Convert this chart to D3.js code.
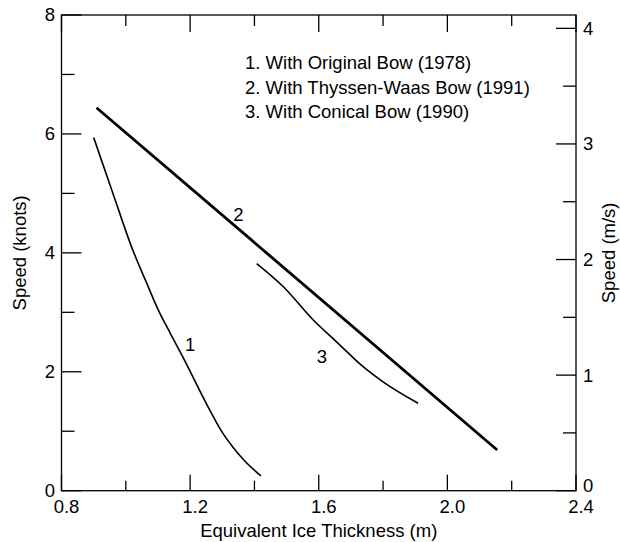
<!DOCTYPE html>
<html><head><meta charset="utf-8">
<script src="https://cdn.jsdelivr.net/npm/d3@7"></script>
<style>body{margin:0;background:#fff}svg{display:block}text{font-family:"Liberation Sans",Arial,sans-serif;fill:#000}</style>
</head><body><div id="chart"></div>
<script>
const xTicksMajor = [0.8, 1.2, 1.6, 2.0, 2.4];
const xTicksMinor = [1.0, 1.4, 1.8, 2.2];
const yTicksMajor = [0, 2, 4, 6, 8];
const yTicksMinor = [1, 3, 5, 7];
const y2TicksMajor = [0, 1, 2, 3, 4];
const y2TicksMinor = [0.5, 1.5, 2.5, 3.5];
const legendLines = ["1. With Original Bow (1978)", "2. With Thyssen-Waas Bow (1991)", "3. With Conical Bow (1990)"];
const series1 = [[0.90,5.94],[0.96,5.0],[1.02,4.07],[1.065,3.49],[1.10,3.05],[1.14,2.63],[1.18,2.22],[1.25,1.47],[1.30,0.98],[1.335,0.72],[1.37,0.50],[1.42,0.25]];
const series2 = [[0.909,6.44],[2.155,0.685]];
const series3 = [[1.407,3.82],[1.49,3.43],[1.583,2.87],[1.656,2.50],[1.738,2.085],[1.80,1.83],[1.909,1.47]];
const curveLabels = [{t:"1",x:1.20,y:2.45},{t:"2",x:1.35,y:4.65},{t:"3",x:1.61,y:2.25}];
const knotToMs = 0.514444;

const W = 620, H = 542;
const L = 61.5, R = 576, T = 15, B = 490.7;
const svg = d3.select("#chart").append("svg").attr("width", W).attr("height", H);
const x = d3.scaleLinear().domain([0.8, 2.4]).range([L, R]);
const y = d3.scaleLinear().domain([0, 8]).range([B, T]);
const y2 = d3.scaleLinear().domain([0, 8 * knotToMs]).range([B, T]);
const fs = "18.5px";

const g = svg.append("g");
g.append("rect").attr("x", L).attr("y", T).attr("width", R - L).attr("height", B - T)
  .attr("fill", "none").attr("stroke", "#000").attr("stroke-width", 1.3);

const tk = (x1, y1, x2, y2_) => g.append("line").attr("x1", x1).attr("y1", y1).attr("x2", x2).attr("y2", y2_).attr("stroke", "#000").attr("stroke-width", 1.3);
xTicksMajor.forEach(v => { tk(x(v), B, x(v), B - 16); tk(x(v), T, x(v), T + 17); });
xTicksMinor.forEach(v => { tk(x(v), B, x(v), B - 10); tk(x(v), T, x(v), T + 11); });
yTicksMajor.forEach(v => tk(L, y(v), L + 20, y(v)));
yTicksMinor.forEach(v => tk(L, y(v), L + 13, y(v)));
y2TicksMajor.forEach(v => tk(R, y2(v), R - 20, y2(v)));
y2TicksMinor.forEach(v => tk(R, y2(v), R - 13, y2(v)));

g.selectAll(".xl").data(xTicksMajor).enter().append("text")
  .attr("x", d => x(d) + 5).attr("y", B + 22).attr("text-anchor", "middle").style("font-size", fs)
  .text(d => d.toFixed(1));
g.selectAll(".yl").data(yTicksMajor).enter().append("text")
  .attr("x", L - 6.5).attr("y", d => y(d)).attr("dy", "0.35em").attr("text-anchor", "end").style("font-size", fs)
  .text(d => d);
g.selectAll(".y2l").data(y2TicksMajor).enter().append("text")
  .attr("x", R + 7).attr("y", d => y2(d) - (d === 0 ? 5 : 0)).attr("dy", "0.35em").attr("text-anchor", "start").style("font-size", fs)
  .text(d => d);

svg.append("text").attr("x", (L + R) / 2).attr("y", 537).attr("text-anchor", "middle").style("font-size", fs)
  .text("Equivalent Ice Thickness (m)");
svg.append("text").attr("transform", `translate(26,${(T + B) / 2}) rotate(-90)`).attr("text-anchor", "middle").style("font-size", fs)
  .text("Speed (knots)");
svg.append("text").attr("transform", `translate(615,${(T + B) / 2}) rotate(-90)`).attr("text-anchor", "middle").style("font-size", fs)
  .text("Speed (m/s)");

svg.selectAll(".lg").data(legendLines).enter().append("text")
  .attr("x", 245).attr("y", (d, i) => 69 + i * 24.5).style("font-size", fs).text(d => d);

const line = d3.line().x(d => x(d[0])).y(d => y(d[1])).curve(d3.curveMonotoneX);
svg.append("path").datum(series1).attr("d", line).attr("fill", "none").attr("stroke", "#000").attr("stroke-width", 1.6);
svg.append("path").datum(series2).attr("d", line).attr("fill", "none").attr("stroke", "#000").attr("stroke-width", 2.8);
svg.append("path").datum(series3).attr("d", line).attr("fill", "none").attr("stroke", "#000").attr("stroke-width", 1.6);

svg.selectAll(".cl").data(curveLabels).enter().append("text")
  .attr("x", d => x(d.x)).attr("y", d => y(d.y)).attr("dy", "0.35em").attr("text-anchor", "middle").style("font-size", fs)
  .text(d => d.t);
</script></body></html>
